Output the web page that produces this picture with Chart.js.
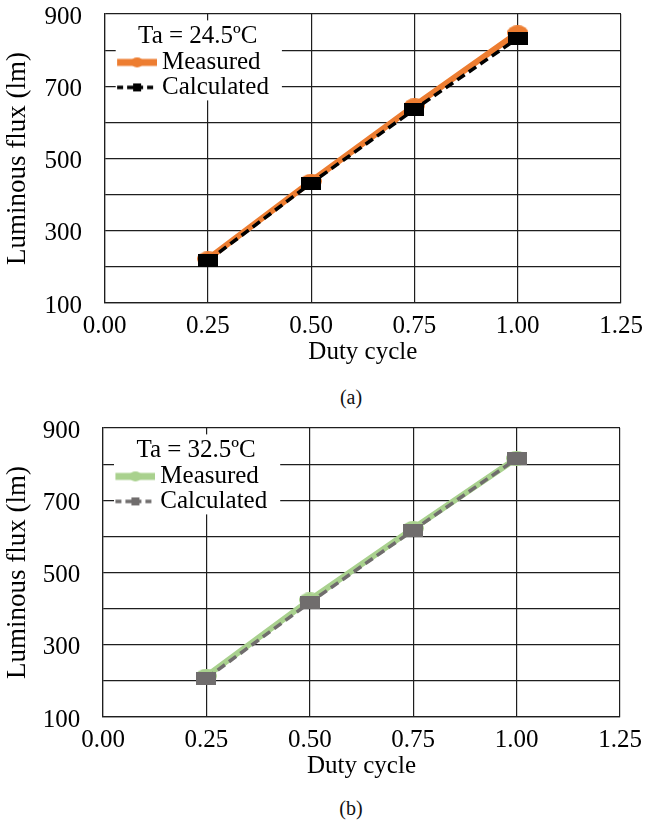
<!DOCTYPE html>
<html><head><meta charset="utf-8">
<script src="https://cdn.jsdelivr.net/npm/chart.js@4.4.1/dist/chart.umd.min.js"></script>
<style>
html,body{margin:0;padding:0;background:#fff;width:645px;height:830px;overflow:hidden;}
canvas{position:absolute;left:0;}
.cap{position:absolute;left:0;width:702px;text-align:center;font:20px "Liberation Serif",serif;color:#111;line-height:22px;}
</style></head><body>
<canvas id="ca" width="645" height="380" style="top:0px"></canvas>
<div class="cap" style="top:386px">(a)</div>
<canvas id="cb" width="645" height="380" style="top:414.4px"></canvas>
<div class="cap" style="top:797px">(b)</div>
<script>
// ---- data ----
const dutyCycle = [0.25, 0.50, 0.75, 1.00];
const measuredA = [222, 437, 646, 848];
const calculatedA = [217, 432, 636, 833];
const measuredB = [213, 424, 622, 816];
const calculatedB = [207, 417, 617, 815];
const yLabelled = [100, 300, 500, 700, 900];
const legendTitles = ['Ta = 24.5ºC', 'Ta = 32.5ºC'];
const seriesNames = ['Measured', 'Calculated'];
const xAxisTitle = 'Duty cycle';
const yAxisTitle = 'Luminous flux (lm)';

Chart.defaults.font.family = "'Liberation Serif', serif";
Chart.defaults.color = '#000';

function markerImg(w, h, color, shape) {
  const c = document.createElement('canvas');
  c.width = w; c.height = h;
  const g = c.getContext('2d');
  g.fillStyle = color;
  if (shape === 'ellipse') {
    g.beginPath(); g.ellipse(w / 2, h / 2, w / 2, h / 2, 0, 0, Math.PI * 2); g.fill();
  } else {
    g.fillRect(0, 0, w, h);
  }
  return c;
}
function legendImg(color, lw, dash, shape) {
  const c = document.createElement('canvas');
  c.width = 48; c.height = 14;
  const g = c.getContext('2d');
  g.strokeStyle = color; g.fillStyle = color; g.lineWidth = lw;
  g.setLineDash(dash);
  g.beginPath(); g.moveTo(8, 7); g.lineTo(48, 7); g.stroke();
  g.setLineDash([]);
  if (shape === 'ellipse') {
    g.beginPath(); g.ellipse(28, 7, 6, 5, 0, 0, Math.PI * 2); g.fill();
  } else {
    g.fillRect(24, 3, 8, 8);
  }
  return c;
}

const legendBoxPlugin = {
  id: 'legendBox',
  afterLayout(chart) {
    const lg = chart.legend, ca = chart.chartArea;
    lg.left = ca.left + 12; lg.top = ca.top;
    lg.right = lg.left + lg.width; lg.bottom = lg.top + lg.height;
    lg.adjustHitBoxes && lg.adjustHitBoxes();
  },
  beforeDatasetsDraw(chart) {
    const lg = chart.legend, ctx = chart.ctx;
    ctx.save();
    ctx.fillStyle = '#fff';
    ctx.fillRect(lg.left - 1, lg.top + 6.4, lg.width + 4, 80);
    ctx.restore();
    lg.draw();
  }
};

function makeChart(id, cfg) {
  const gridColor = '#1e1e1e';
  return new Chart(document.getElementById(id), {
    type: 'line',
    data: {
      datasets: [
        {
          label: seriesNames[0],
          data: dutyCycle.map((x, i) => ({x, y: cfg.measured[i]})),
          borderColor: cfg.mColor, backgroundColor: cfg.mColor,
          borderWidth: 6, tension: 0, fill: false,
          pointStyle: markerImg(21, 15, cfg.mColor, 'ellipse'), pointRadius: 8,
          order: 1
        },
        {
          label: seriesNames[1],
          data: dutyCycle.map((x, i) => ({x, y: cfg.calculated[i]})),
          borderColor: cfg.cColor, backgroundColor: cfg.cColor,
          borderWidth: 3.5, borderDash: [9, 5], tension: 0, fill: false,
          pointStyle: markerImg(20, 13, cfg.cColor, 'rect'), pointRadius: 8,
          order: 0
        }
      ]
    },
    options: {
      responsive: false, animation: false, devicePixelRatio: 1,
      layout: { padding: { top: 8.6, right: cfg.padRight, left: 0, bottom: 0 } },
      plugins: {
        tooltip: { enabled: false },
        legend: {
          position: 'chartArea', align: 'start',
          labels: {
            usePointStyle: true, pointStyleWidth: 32.8, padding: 0,
            font: { size: 25 }, color: '#000',
            sort: (a, b) => a.datasetIndex - b.datasetIndex,
            generateLabels(chart) {
              const items = Chart.defaults.plugins.legend.labels.generateLabels(chart);
              items.forEach(it => {
                it.pointStyle = it.datasetIndex === 0
                  ? legendImg(cfg.mColor, 7, [], 'ellipse')
                  : legendImg(cfg.cColor, 3.5, [6, 4], 'rect');
              });
              return items;
            }
          },
          title: { display: true, text: cfg.title, color: '#000',
                   font: { size: 25, lineHeight: 1 }, padding: { top: 9.9, bottom: 1 } }
        }
      },
      scales: {
        x: {
          type: 'linear', min: 0, max: 1.25,
          ticks: { stepSize: 0.25, callback: v => v.toFixed(2), font: { size: 25 }, color: '#000', padding: 0, maxRotation: 0, autoSkip: false },
          grid: { color: gridColor, lineWidth: 1.2, drawTicks: true, tickLength: 8, tickColor: 'rgba(0,0,0,0)' },
          border: { display: true, color: gridColor, width: 1.2 },
          title: { display: true, text: xAxisTitle, font: { size: 25 }, color: '#000', padding: { top: 0, bottom: 13 } },
          afterFit: s => { s.height = 77; }
        },
        y: {
          min: 100, max: 900,
          ticks: { stepSize: 100, autoSkip: false, color: '#000', padding: 0,
                   font: { size: 25, lineHeight: 0.24 },
                   callback: v => yLabelled.includes(v) ? ['', String(v)] : '' },
          grid: { color: gridColor, lineWidth: 1.2, drawTicks: true, tickLength: 22.7, tickColor: 'rgba(0,0,0,0)' },
          border: { display: true, color: gridColor, width: 1.2 },
          title: { display: true, text: yAxisTitle, font: { size: 27 }, color: '#000', padding: { top: 2, bottom: 0 } },
          afterFit: s => { s.width = cfg.yWidth; }
        }
      }
    },
    plugins: [legendBoxPlugin]
  });
}

makeChart('ca', { measured: measuredA, calculated: calculatedA, mColor: '#ED7D31', cColor: '#000000',
                  title: legendTitles[0], yWidth: 104.7, padRight: 24 });
makeChart('cb', { measured: measuredB, calculated: calculatedB, mColor: '#A9D18E', cColor: '#706d6d',
                  title: legendTitles[1], yWidth: 103, padRight: 25 });
</script>
</body></html>
